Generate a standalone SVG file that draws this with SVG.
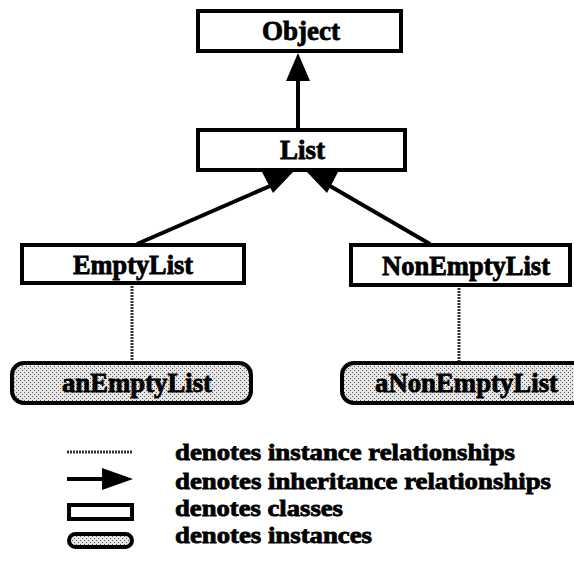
<svg xmlns="http://www.w3.org/2000/svg" width="574" height="564" viewBox="0 0 574 564">
<style>
.box{fill:#fff;stroke:#000;stroke-width:4}
.inst{fill:url(#stipple);stroke:#000;stroke-width:4}
.lbl{font-family:"Liberation Serif","Times New Roman",serif;font-weight:bold;font-size:27px;fill:#000;stroke:#000;stroke-width:0.8}
.leg{font-size:23px}
.inh{stroke:#000;stroke-width:4;fill:none}
.head{fill:#000;stroke:none}
.dot{stroke:#333;stroke-width:3;stroke-dasharray:2 1;fill:none}
</style>
<defs>
<pattern id="stipple" width="4" height="4" patternUnits="userSpaceOnUse">
<rect width="4" height="4" fill="#e6e6e6"/>
<rect x="0" y="0" width="1" height="1" fill="#555"/>
<rect x="2" y="2" width="1" height="1" fill="#555"/>
</pattern>
</defs>
<rect width="574" height="564" fill="#fff"/>
<g id="connectors">
<line class="inh" x1="298" y1="128" x2="298" y2="78"/>
<polygon class="head" points="298,53 286,81 310,81"/>
<line class="inh" x1="137" y1="244" x2="270" y2="186"/>
<polygon class="head" points="262,172 293,172 273,193"/>
<line class="inh" x1="430" y1="244" x2="330" y2="186"/>
<polygon class="head" points="307,172 338,172 327,193"/>
<line class="dot" x1="132" y1="283" x2="132" y2="362"/>
<line class="dot" x1="459" y1="285" x2="459" y2="362"/>
</g>
<g id="Object">
<rect class="box" x="198" y="11" width="203" height="40"/>
<text class="lbl" x="262" y="40" textLength="78" lengthAdjust="spacingAndGlyphs">Object</text>
</g>
<g id="List">
<rect class="box" x="198" y="130" width="207" height="40"/>
<text class="lbl" x="280" y="159" textLength="45" lengthAdjust="spacingAndGlyphs">List</text>
</g>
<g id="EmptyList">
<rect class="box" x="22" y="245" width="222" height="38"/>
<text class="lbl" x="73" y="274" textLength="120" lengthAdjust="spacingAndGlyphs">EmptyList</text>
</g>
<g id="NonEmptyList">
<rect class="box" x="351" y="245" width="219" height="40"/>
<text class="lbl" x="382" y="275" textLength="168" lengthAdjust="spacingAndGlyphs">NonEmptyList</text>
</g>
<g id="anEmptyList">
<rect class="inst" x="12" y="363" width="239" height="40" rx="12"/>
<text class="lbl" x="62" y="392" textLength="150" lengthAdjust="spacingAndGlyphs">anEmptyList</text>
</g>
<g id="aNonEmptyList">
<rect class="inst" x="342" y="363" width="250" height="40" rx="12"/>
<text class="lbl" x="375" y="392" textLength="183" lengthAdjust="spacingAndGlyphs">aNonEmptyList</text>
</g>
<g id="legend">
<line class="dot" x1="67" y1="452" x2="133" y2="452" stroke-dasharray="2 5"/>
<line class="inh" x1="67" y1="479" x2="105" y2="479"/>
<polygon class="head" points="133,479 102,468 102,490"/>
<rect class="box" x="69" y="505" width="63" height="14"/>
<rect class="inst" x="69" y="534" width="63" height="13" rx="6.5"/>
<text class="lbl leg" x="175" y="460" textLength="340" lengthAdjust="spacingAndGlyphs">denotes instance relationships</text>
<text class="lbl leg" x="175" y="489" textLength="376" lengthAdjust="spacingAndGlyphs">denotes inheritance relationships</text>
<text class="lbl leg" x="175" y="516" textLength="168" lengthAdjust="spacingAndGlyphs">denotes classes</text>
<text class="lbl leg" x="175" y="543" textLength="197" lengthAdjust="spacingAndGlyphs">denotes instances</text>
</g>
</svg>
